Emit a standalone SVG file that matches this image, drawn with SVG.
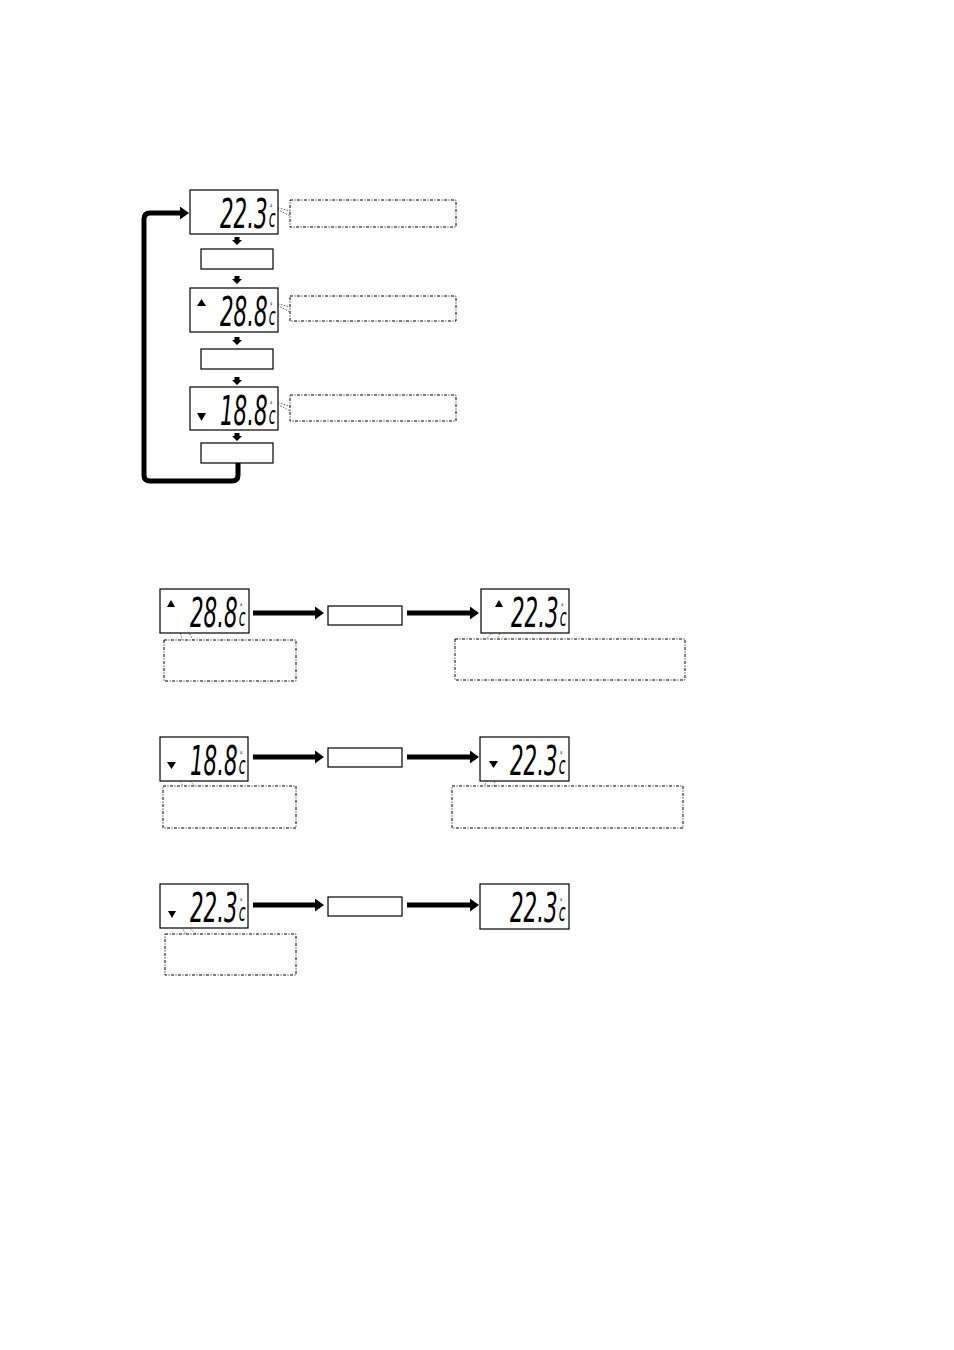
<svg xmlns="http://www.w3.org/2000/svg" width="954" height="1350" viewBox="0 0 954 1350">
<style>
.frame{fill:#fff;stroke:#000;stroke-width:1.2}
.btn{fill:#fff;stroke:#000;stroke-width:1.2}
.dig{font-family:'DejaVu Sans Condensed','DejaVu Sans',sans-serif;font-style:italic;font-size:41px;fill:#000}
.unit{font-size:24px}
.deg{font-size:9px;font-style:normal}
.call{fill:none;stroke:#000;stroke-width:1;stroke-dasharray:3 1.5 1 1.5}
.lead{fill:none;stroke:#555;stroke-width:0.9;stroke-dasharray:1.5 1.5}
.thick{fill:none;stroke:#000;stroke-width:5}
.tri{fill:#000}
</style>
<defs>
<marker id="ah" markerUnits="userSpaceOnUse" markerWidth="9" markerHeight="13" refX="1" refY="6.5" orient="auto">
<path d="M0,0 L9,6.5 L0,13 Z" fill="#000"/>
</marker>
<path id="dn" d="M-2.5,0 H2.5 V3 H5 L0,8 L-5,3 H-2.5 Z" fill="#000"/>
</defs>
<rect width="954" height="1350" fill="#fff"/>

<!-- connectors -->
<g id="connectors">
<use href="#dn" x="237" y="237"/>
<use href="#dn" x="237" y="276"/>
<use href="#dn" x="237" y="337"/>
<use href="#dn" x="237" y="377"/>
<use href="#dn" x="237" y="433"/>
<path class="thick" d="M238,463 V475 Q238,481 232,481 H150 Q144,481 144,475 V219 Q144,213 150,213 H181" marker-end="url(#ah)"/>
<line class="thick" x1="253" y1="613" x2="316" y2="613" marker-end="url(#ah)"/>
<line class="thick" x1="407" y1="613" x2="471" y2="613" marker-end="url(#ah)"/>
<line class="thick" x1="253" y1="757" x2="316" y2="757" marker-end="url(#ah)"/>
<line class="thick" x1="407" y1="757" x2="471" y2="757" marker-end="url(#ah)"/>
<line class="thick" x1="253" y1="905" x2="316" y2="905" marker-end="url(#ah)"/>
<line class="thick" x1="407" y1="905" x2="471" y2="905" marker-end="url(#ah)"/>
<!-- leaders -->
<line class="lead" x1="275" y1="207" x2="290" y2="211"/>
<line class="lead" x1="275" y1="208" x2="290" y2="216"/>
<line class="lead" x1="275" y1="303" x2="290" y2="307"/>
<line class="lead" x1="275" y1="304" x2="290" y2="312"/>
<line class="lead" x1="275" y1="402" x2="290" y2="406"/>
<line class="lead" x1="275" y1="403" x2="290" y2="411"/>
<line class="lead" x1="175" y1="610" x2="182" y2="640"/>
<line class="lead" x1="177" y1="610" x2="193" y2="640"/>
<line class="lead" x1="507" y1="617" x2="486" y2="639"/>
<line class="lead" x1="509" y1="618" x2="497" y2="639"/>
<line class="lead" x1="173" y1="768" x2="183" y2="786"/>
<line class="lead" x1="175" y1="767" x2="195" y2="786"/>
<line class="lead" x1="495" y1="768" x2="484" y2="786"/>
<line class="lead" x1="498" y1="767" x2="494" y2="786"/>
<line class="lead" x1="175" y1="917" x2="186" y2="934"/>
<line class="lead" x1="177" y1="917" x2="196" y2="934"/>
</g>

<!-- top chain -->
<g id="disp1" transform="translate(190,190)">
<rect class="frame" x="0" y="0" width="88" height="44"/>
<text class="dig" transform="translate(30,38) scale(0.58,1)">22.3<tspan class="deg" dx="4" dy="-17">°</tspan><tspan class="unit" dx="-6" dy="16">c</tspan></text>
</g>
<g id="callout1"><rect class="call" x="290" y="200" width="166" height="27"/></g>
<g id="button1"><rect class="btn" x="201" y="249" width="72" height="20"/></g>

<g id="disp2" transform="translate(190,288)">
<rect class="frame" x="0" y="0" width="88" height="44"/>
<path class="tri" d="M7,18 L11.5,11 L16,18 Z"/>
<text class="dig" transform="translate(30,38) scale(0.58,1)">28.8<tspan class="deg" dx="4" dy="-17">°</tspan><tspan class="unit" dx="-6" dy="16">c</tspan></text>
</g>
<g id="callout2"><rect class="call" x="290" y="296" width="166" height="25"/></g>
<g id="button2"><rect class="btn" x="201" y="349" width="72" height="20"/></g>

<g id="disp3" transform="translate(190,387)">
<rect class="frame" x="0" y="0" width="88" height="43"/>
<path class="tri" d="M7,26 L16,26 L11.5,34 Z"/>
<text class="dig" transform="translate(30,38) scale(0.58,1)">18.8<tspan class="deg" dx="4" dy="-17">°</tspan><tspan class="unit" dx="-6" dy="16">c</tspan></text>
</g>
<g id="callout3"><rect class="call" x="290" y="395" width="166" height="26"/></g>
<g id="button3"><rect class="btn" x="201" y="443" width="72" height="20"/></g>

<!-- row 1 -->
<g id="dispA" transform="translate(160,589)">
<rect class="frame" x="0" y="0" width="89" height="44"/>
<path class="tri" d="M7,18 L11,11 L15,18 Z"/>
<text class="dig" transform="translate(30,38) scale(0.58,1)">28.8<tspan class="deg" dx="4" dy="-17">°</tspan><tspan class="unit" dx="-6" dy="16">c</tspan></text>
</g>
<g id="calloutA"><rect class="call" x="164" y="640" width="132" height="41"/></g>
<g id="buttonA"><rect class="btn" x="328" y="606" width="74" height="19"/></g>
<g id="dispB" transform="translate(481,589)">
<rect class="frame" x="0" y="0" width="88" height="44"/>
<path class="tri" d="M14,18 L18,11 L22,18 Z"/>
<text class="dig" transform="translate(30,38) scale(0.58,1)">22.3<tspan class="deg" dx="4" dy="-17">°</tspan><tspan class="unit" dx="-6" dy="16">c</tspan></text>
</g>
<g id="calloutB"><rect class="call" x="455" y="639" width="230" height="41"/></g>

<!-- row 2 -->
<g id="dispC" transform="translate(160,737)">
<rect class="frame" x="0" y="0" width="88" height="44"/>
<path class="tri" d="M7,25 L16,25 L11.5,32 Z"/>
<text class="dig" transform="translate(30,38) scale(0.58,1)">18.8<tspan class="deg" dx="4" dy="-17">°</tspan><tspan class="unit" dx="-6" dy="16">c</tspan></text>
</g>
<g id="calloutC"><rect class="call" x="163" y="786" width="133" height="42"/></g>
<g id="buttonC"><rect class="btn" x="328" y="748" width="74" height="19"/></g>
<g id="dispD" transform="translate(480,737)">
<rect class="frame" x="0" y="0" width="89" height="44"/>
<path class="tri" d="M9,24 L18,24 L13.5,31 Z"/>
<text class="dig" transform="translate(30,38) scale(0.58,1)">22.3<tspan class="deg" dx="4" dy="-17">°</tspan><tspan class="unit" dx="-6" dy="16">c</tspan></text>
</g>
<g id="calloutD"><rect class="call" x="452" y="786" width="231" height="42"/></g>

<!-- row 3 -->
<g id="dispE" transform="translate(160,884)">
<rect class="frame" x="0" y="0" width="88" height="44"/>
<path class="tri" d="M8,27 L16,27 L12,34 Z"/>
<text class="dig" transform="translate(30,38) scale(0.58,1)">22.3<tspan class="deg" dx="4" dy="-17">°</tspan><tspan class="unit" dx="-6" dy="16">c</tspan></text>
</g>
<g id="calloutE"><rect class="call" x="165" y="934" width="131" height="41"/></g>
<g id="buttonE"><rect class="btn" x="328" y="897" width="74" height="19"/></g>
<g id="dispF" transform="translate(480,884)">
<rect class="frame" x="0" y="0" width="89" height="45"/>
<text class="dig" transform="translate(30,38) scale(0.58,1)">22.3<tspan class="deg" dx="4" dy="-17">°</tspan><tspan class="unit" dx="-6" dy="16">c</tspan></text>
</g>
</svg>
